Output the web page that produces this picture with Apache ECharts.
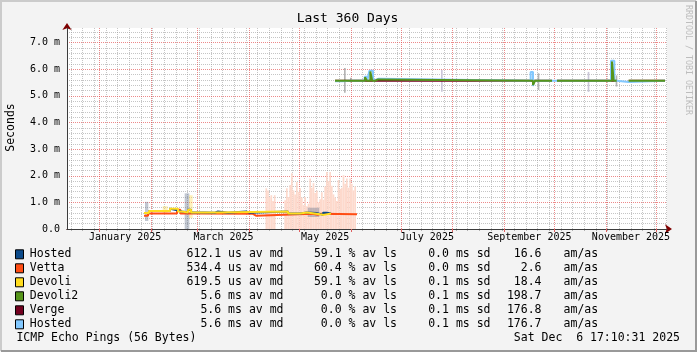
<!DOCTYPE html>
<html>
<head>
<meta charset="utf-8">
<script src="https://cdn.jsdelivr.net/npm/echarts@6/dist/echarts.min.js"></script>
<style>
  html, body { margin: 0; padding: 0; background: #f3f3f3; }
  #main { width: 697px; height: 352px; }
</style>
</head>
<body>
<div id="main"></div>
<script>
// time axis is in days since 1 Jan 2025 (graph: last 360 days up to 6 Dec 2025)
var DAY0 = Date.UTC(2025, 0, 1)
var xMin = -19.4
var xMax = 340.6
var yMax = 7.55

var labelMonths = [0, 2, 4, 6, 8, 10]
var labelNames = ['January 2025', 'March 2025', 'May 2025', 'July 2025', 'September 2025', 'November 2025']
var yTicks = [0, 1, 2, 3, 4, 5, 6, 7]
var yLabels = ['0.0', '1.0 m', '2.0 m', '3.0 m', '4.0 m', '5.0 m', '6.0 m', '7.0 m']

// legend table
var legendNames = ['Hosted', 'Vetta', 'Devoli', 'Devoli2', 'Verge', 'Hosted']
var legendColors = ['#0c4a8a', '#ff4d14', '#ffdc1e', '#56951b', '#72001f', '#82c8ff']
var medians = ['612.1 us', '534.4 us', '619.5 us', '5.6 ms', '5.6 ms', '5.6 ms']
var losses = ['59.1', '60.4', '59.1', '0.0', '0.0', '0.0']
var sds = ['0.0', '0.0', '0.1', '0.1', '0.1', '0.1']
var amas = ['16.6', '2.6', '18.4', '198.7', '176.8', '176.7']

// median lines [day, ms]
var vettaLine = [[26.8, 0.50], [29.2, 0.58], [46.6, 0.72], [48.6, 0.58], [60, 0.57], [92.2, 0.50], [94.0, 0.57],
  [128, 0.53], [131, 0.57], [133, 0.55], [154.6, 0.55]]
var hostedLine = [[26.8, 0.60], [29.8, 0.68], [42.4, 0.76], [43.4, 0.70], [46.8, 0.76], [47.2, 0.66], [49.6, 0.62],
  [53.2, 0.72], [55, 0.62], [63.4, 0.61], [69.4, 0.66], [71.2, 0.61], [77.2, 0.66], [88, 0.61], [90.4, 0.66],
  [113.2, 0.58], [120.4, 0.62], [124.4, 0.60], [130.4, 0.53], [134.2, 0.61], [136.6, 0.58], [139, 0.58]]
var devoliLine = [[26.8, 0.60], [29.8, 0.68], [42.4, 0.76], [47.2, 0.66], [49.6, 0.62], [53.2, 0.72], [55.0, 0.62],
  [69.4, 0.66], [113.2, 0.58], [120.4, 0.62], [124.6, 0.55], [132.4, 0.53], [134.8, 0.58], [139.0, 0.58]]
var devoli2Line = [[141.4, 5.57], [159.4, 5.70], [160.6, 5.57], [162.6, 5.92], [163.7, 5.57], [165.4, 5.62],
  [167.2, 5.57], [260.2, 5.41], [261.4, 5.57], [271.6, 5.57], [271.6, null], [274.6, 5.57], [307.6, 6.29],
  [308.6, 5.57], [310.4, 5.57], [310.4, null], [317.6, 5.57], [339.4, 5.57]]
var vergeLine = [[141.4, 5.57], [271.6, 5.57], [271.6, null], [274.6, 5.57], [310.4, 5.57], [310.4, null],
  [317.6, 5.57], [339.4, 5.57]]
var hosted2Line = [[141.4, 5.55], [146, 5.57], [150, 5.64], [151, 5.57], [159.2, 5.72], [160.8, 5.57], [162.0, 5.94],
  [164.2, 5.57], [165.2, 5.64], [167.4, 5.57], [258.8, 5.90], [260.2, 5.37], [261.0, 5.57], [307.0, 6.32],
  [309.0, 5.57], [310.4, 5.52], [317.6, 5.57], [339.4, 5.57]]

// Vetta smoke: one bar per day, from 0 up to the top value (ms)
var vettaSmokeDays = [99.7, 100.7, 101.7, 102.7, 103.7, 104.7,
  111, 112, 113, 114, 115, 116, 117, 118, 119, 120, 121, 122, 123, 124, 125, 126, 127, 128, 129, 130,
  131, 132, 133, 134, 135, 136, 137, 138, 139, 140, 141, 142, 143, 144, 145, 146, 147, 148, 149, 150,
  151, 152, 153]
var vettaSmokeTop = [1.53, 1.45, 1.20, 1.27, 1.05, 1.27,
  1.08, 1.53, 1.20, 1.65, 2.09, 1.45, 1.30, 1.77, 1.40, 1.53, 1.18, 0.90, 1.20, 0.85, 0.95, 1.90, 1.55, 1.72, 1.35, 1.45,
  1.00, 1.12, 1.38, 1.10, 1.60, 2.14, 1.80, 2.14, 1.62, 1.30, 1.18, 1.05, 1.84, 1.50, 1.55, 2.02, 1.70, 1.90, 1.55, 1.90,
  1.70, 1.45, 1.60]

// other smoke [dayFrom, dayTo, lo ms, hi ms]
var hostedSmoke = [[27.4, 29.4, 0.30, 1.02], [51.2, 54.0, 0.0, 1.34], [125.0, 132.0, 0.45, 0.80]]
var devoliSmoke = [[38.0, 41.0, 0.60, 0.86], [53.8, 56.0, 0.41, 1.27]]
var greySmoke = [[146.8, 147.8, 5.12, 6.05], [150.4, 151.4, 5.50, 5.68], [263.0, 264.0, 5.22, 5.85], [309.8, 310.8, 5.35, 5.77]]
var lavenderSmoke = [[205.0, 206.0, 5.16, 5.97], [293.0, 294.0, 5.15, 5.90]]

var FONT = '"DejaVu Sans Mono", "Liberation Mono", monospace'
var MAJOR = 'rgba(225, 60, 60, 0.6)'
var MINOR = 'rgba(150, 150, 150, 0.55)'

function dayOf(y, m, d) {
  return (Date.UTC(y, m, d) - DAY0) / 864e5
}

// grid positions
var monthStarts = []
for (var m = -1; m <= 11; m++) {
  var ms = dayOf(2025, m, 1)
  if (ms > xMin && ms < xMax) monthStarts.push(ms)
}
var labelPos = labelMonths.map(function (m) {
  return (dayOf(2025, m, 1) + dayOf(2025, m + 1, 1)) / 2
})
var weekLines = []
for (var w = dayOf(2024, 11, 15); w < xMax; w += 7) {
  if (monthStarts.indexOf(w) < 0) weekLines.push(w)
}
var yMinor = []
for (var k = 1; k * 0.2 < yMax; k++) {
  if (k % 5 !== 0) yMinor.push(+(k * 0.2).toFixed(1))
}

var vettaSmoke = vettaSmokeDays.map(function (d, i) {
  return [d, d + 1, 0, vettaSmokeTop[i]]
})

function smoke(name, data, color) {
  return {
    type: 'custom',
    name: name,
    silent: true,
    encode: { x: [0, 1], y: [2, 3] },
    data: data,
    renderItem: function (params, api) {
      var p0 = api.coord([api.value(0), api.value(3)])
      var p1 = api.coord([api.value(1), api.value(2)])
      return {
        type: 'rect',
        shape: { x: p0[0], y: p0[1], width: Math.max(p1[0] - p0[0], 1), height: p1[1] - p0[1] },
        style: { fill: color }
      }
    }
  }
}

function line(name, data, color) {
  return {
    type: 'line',
    name: name,
    step: 'end',
    data: data,
    symbol: 'none',
    showSymbol: false,
    connectNulls: false,
    silent: true,
    lineStyle: { color: color, width: 2 },
    itemStyle: { color: color }
  }
}

// texts, legend, frame
var graphics = []
graphics.push({ type: 'polyline', shape: { points: [[1, 351], [1, 1], [696, 1]] }, style: { stroke: '#cbcbcb', lineWidth: 2, fill: null } })
graphics.push({ type: 'polyline', shape: { points: [[1, 351], [696, 351], [696, 1]] }, style: { stroke: '#999999', lineWidth: 2, fill: null } })

function txt(x, y, s, size, align, color, rot) {
  return {
    type: 'text', x: x, y: y, rotation: rot || 0, silent: true,
    style: {
      text: s, fontFamily: FONT, fontSize: size, fill: color || '#000',
      align: align, textAlign: align, verticalAlign: 'middle', textVerticalAlign: 'middle'
    }
  }
}

graphics.push(txt(347.5, 19, 'Last 360 Days', 13, 'center'))
graphics.push(txt(11.5, 127.5, 'Seconds', 11.5, 'center', '#000', Math.PI / 2))
graphics.push(txt(687.7, 60, 'RRDTOOL / TOBI OETIKER', 8.3, 'center', '#bdbdbd', -Math.PI / 2))

for (var i = 0; i < legendNames.length; i++) {
  var ry = 254.3 + 14 * i
  graphics.push({ type: 'rect', shape: { x: 15.5, y: ry - 4.5, width: 8, height: 9 }, style: { fill: legendColors[i], stroke: '#000', lineWidth: 1 } })
  graphics.push(txt(29.8, ry, legendNames[i], 11.5, 'left'))
  graphics.push(txt(283.5, ry, medians[i] + ' av md', 11.5, 'right'))
  graphics.push(txt(397, ry, losses[i] + ' % av ls', 11.5, 'right'))
  graphics.push(txt(490.5, ry, sds[i] + ' ms sd', 11.5, 'right'))
  graphics.push(txt(541.5, ry, amas[i], 11.5, 'right'))
  graphics.push(txt(563.6, ry, 'am/as', 11.5, 'left'))
}
graphics.push(txt(16.4, 338.3, 'ICMP Echo Pings (56 Bytes)', 11.5, 'left'))
graphics.push(txt(680, 338.3, 'Sat Dec  6 17:10:31 2025', 11.5, 'right'))

var chart = echarts.init(document.getElementById('main'), null, { renderer: 'canvas' })

var option = {
  animation: false,
  backgroundColor: '#f3f3f3',
  textStyle: { fontFamily: FONT },
  grid: {
    left: 67, top: 28, width: 600, height: 201,
    show: true, backgroundColor: '#ffffff', borderWidth: 0,
    outerBoundsMode: 'none'
  },
  xAxis: [
    {
      type: 'value', min: xMin, max: xMax, position: 'bottom', z: 1,
      axisLine: { show: true, onZero: false, lineStyle: { color: '#3c3c3c', width: 1 } },
      axisTick: { show: true, customValues: monthStarts, length: 3, lineStyle: { color: '#e06060' } },
      axisLabel: {
        customValues: labelPos, fontFamily: FONT, fontSize: 10, color: '#000', margin: 3,
        formatter: function (v) {
          for (var j = 0; j < labelPos.length; j++) {
            if (Math.abs(v - labelPos[j]) < 0.01) return labelNames[j]
          }
          return ''
        }
      },
      splitLine: { show: true, lineStyle: { color: MAJOR, type: [1, 1], width: 1 } }
    },
    {
      type: 'value', min: xMin, max: xMax, position: 'bottom', z: 0,
      axisLine: { show: false },
      axisTick: { show: true, customValues: weekLines, length: 2, lineStyle: { color: '#b0b0b0' } },
      axisLabel: { show: false },
      splitLine: { show: true, lineStyle: { color: MINOR, type: [1, 1], width: 1 } }
    },
    {
      type: 'value', min: xMin, max: xMax, position: 'bottom', z: 0,
      axisLine: {
        show: true, onZero: false, symbol: ['none', 'arrow'], symbolSize: [7, 7], symbolOffset: [0, 5],
        lineStyle: { color: '#7f0000', width: 1 }
      },
      axisTick: { show: false }, axisLabel: { show: false }, splitLine: { show: false }
    }
  ],
  yAxis: [
    {
      type: 'value', min: 0, max: yMax, position: 'left', z: 1,
      axisLine: { show: true, onZero: false, lineStyle: { color: '#3c3c3c', width: 1 } },
      axisTick: { show: false, customValues: yTicks },
      axisLabel: {
        customValues: yTicks, fontFamily: FONT, fontSize: 10, color: '#000', margin: 7,
        formatter: function (v) { return yLabels[Math.round(v)] }
      },
      splitLine: { show: true, lineStyle: { color: MAJOR, type: [1, 1], width: 1 } }
    },
    {
      type: 'value', min: 0, max: yMax, position: 'left', z: 0,
      axisLine: { show: false },
      axisTick: { show: false, customValues: yMinor },
      axisLabel: { show: false },
      splitLine: { show: true, lineStyle: { color: MINOR, type: [1, 1], width: 1 } }
    },
    {
      type: 'value', min: 0, max: yMax, position: 'left', z: 0,
      axisLine: {
        show: true, onZero: false, symbol: ['none', 'arrow'], symbolSize: [7, 7], symbolOffset: [0, 5],
        lineStyle: { color: '#7f0000', width: 1 }
      },
      axisTick: { show: false }, axisLabel: { show: false }, splitLine: { show: false }
    }
  ],
  graphic: graphics,
  series: [
    smoke('Vetta smoke', vettaSmoke, '#fdd9cc'),
    smoke('Hosted smoke', hostedSmoke, 'rgba(100, 115, 140, 0.4)'),
    smoke('Devoli smoke', devoliSmoke, 'rgba(255, 215, 60, 0.35)'),
    smoke('Devoli2 smoke', greySmoke, '#b4b4b4'),
    smoke('Hosted smoke 2', lavenderSmoke, '#cac6d8'),
    line('Vetta', vettaLine, legendColors[1]),
    line('Hosted', hostedLine, legendColors[0]),
    line('Devoli', devoliLine, legendColors[2]),
    line('Verge', vergeLine, legendColors[4]),
    line('Hosted2', hosted2Line, legendColors[5]),
    line('Devoli2', devoli2Line, legendColors[3])
  ]
}

chart.setOption(option)
</script>
</body>
</html>
